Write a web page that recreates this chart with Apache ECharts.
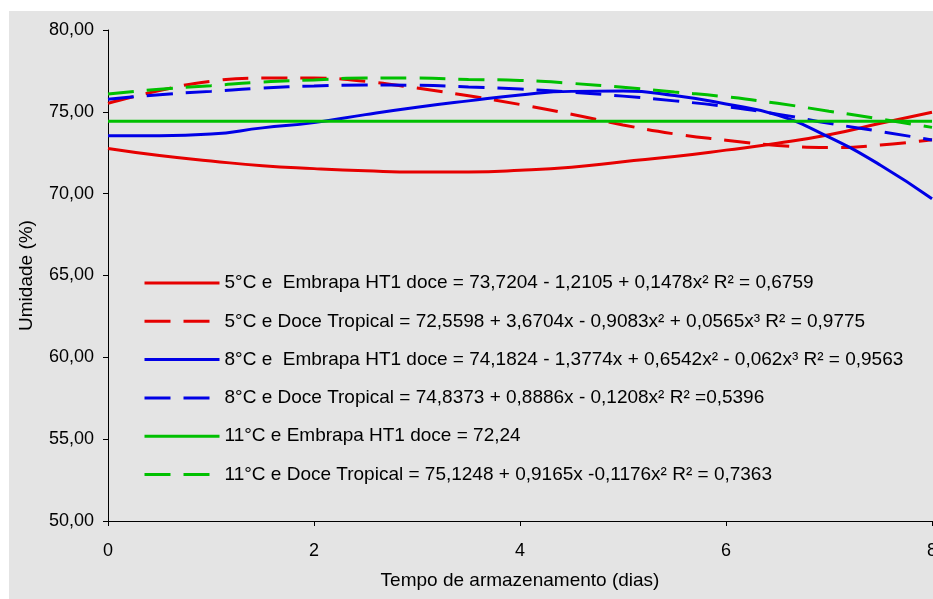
<!DOCTYPE html>
<html>
<head>
<meta charset="utf-8">
<script src="https://cdn.jsdelivr.net/npm/echarts@6/dist/echarts.min.js"></script>
<style>
html,body{margin:0;padding:0;background:#fff;}
#chart{width:933px;height:599px;}
</style>
</head>
<body>
<div id="chart"></div>
<script>
// ---- data ----
var days = [0, 0.5, 1, 1.5, 2, 2.5, 3, 3.5, 4, 4.5, 5, 5.5, 6, 6.5, 7, 7.5, 8];

var seriesNames = [
  '5°C e  Embrapa HT1 doce = 73,7204 - 1,2105 + 0,1478x² R² = 0,6759',
  '5°C e Doce Tropical = 72,5598 + 3,6704x - 0,9083x² + 0,0565x³ R² = 0,9775',
  '8°C e  Embrapa HT1 doce = 74,1824 - 1,3774x + 0,6542x² - 0,062x³ R² = 0,9563',
  '8°C e Doce Tropical = 74,8373 + 0,8886x - 0,1208x² R² =0,5396',
  '11°C e Embrapa HT1 doce = 72,24',
  '11°C e Doce Tropical = 75,1248 + 0,9165x -0,1176x² R² = 0,7363'
];

var embrapa5 = [72.76, 72.33, 72.00, 71.70, 71.53, 71.40, 71.32, 71.33, 71.43, 71.62, 71.95, 72.27, 72.66, 73.08, 73.60, 74.30, 74.97];
var tropical5 = [75.52, 76.30, 76.87, 77.06, 77.06, 76.86, 76.45, 75.98, 75.45, 74.85, 74.20, 73.65, 73.27, 72.95, 72.82, 72.97, 73.30];
var embrapa8 = [73.54, 73.54, 73.64, 74.02, 74.34, 74.83, 75.28, 75.67, 76.03, 76.25, 76.27, 76.00, 75.48, 74.80, 73.45, 71.74, 69.69];
var tropical8 = [75.77, 76.05, 76.25, 76.45, 76.58, 76.64, 76.62, 76.52, 76.39, 76.20, 75.96, 75.67, 75.32, 74.86, 74.30, 73.80, 73.28];
var embrapa11 = [74.43, 74.43, 74.43, 74.43, 74.43, 74.43, 74.43, 74.43, 74.43, 74.43, 74.43, 74.43, 74.43, 74.43, 74.43, 74.43, 74.43];
var tropical11 = [76.09, 76.38, 76.60, 76.82, 76.95, 77.06, 77.06, 76.98, 76.92, 76.74, 76.50, 76.21, 75.92, 75.52, 75.04, 74.56, 74.05];

var xTicks = [0, 2, 4, 6, 8];
var yTicks = [50, 55, 60, 65, 70, 75, 80];

// ---- chart ----
function pairs(vals) { return days.map(function (d, i) { return [d, vals[i]]; }); }

var RED = '#e60000', BLUE = '#0000e6', GREEN = '#00c000';
var FONT = "'Liberation Sans', Arial, sans-serif";
var DASH = [26, 13];

function mk(name, vals, color, dashed) {
  return {
    name: name, type: 'line', data: pairs(vals), smooth: true,
    symbol: 'none', showSymbol: false, silent: true,
    lineStyle: { color: color, width: 3, type: dashed ? DASH : 'solid', cap: 'butt' },
    itemStyle: { color: color }
  };
}

var chart = echarts.init(document.getElementById('chart'), null, { renderer: 'canvas' });
chart.setOption({
  animation: false,
  backgroundColor: '#e4e4e4',
  graphic: [
    { type: 'rect', shape: { x: 0, y: 0, width: 933, height: 11 }, style: { fill: '#ffffff' }, silent: true },
    { type: 'rect', shape: { x: 0, y: 0, width: 9, height: 599 }, style: { fill: '#ffffff' }, silent: true }
  ],
  grid: { left: 108, right: 1, top: 30, bottom: 78, containLabel: false, outerBoundsMode: 'none' },
  xAxis: {
    type: 'value', min: 0, max: 8, interval: 2,
    name: 'Tempo de armazenamento (dias)', nameLocation: 'middle', nameGap: 50,
    nameTextStyle: { fontFamily: FONT, fontSize: 19, color: '#000' },
    axisLine: { show: true, lineStyle: { color: '#000', width: 1 } },
    axisTick: { show: true, inside: false, length: 5, lineStyle: { color: '#000' } },
    axisLabel: { margin: 21, fontFamily: FONT, fontSize: 18, color: '#000', hideOverlap: false,
      formatter: function (v) { return xTicks.indexOf(v) >= 0 ? String(v) : ''; } },
    splitLine: { show: false }
  },
  yAxis: {
    type: 'value', min: 50, max: 80, interval: 5,
    name: 'Umidade (%)', nameLocation: 'middle', nameGap: 72, nameRotate: 90,
    nameTextStyle: { fontFamily: FONT, fontSize: 19, color: '#000' },
    axisLine: { show: true, lineStyle: { color: '#000', width: 1 } },
    axisTick: { show: true, inside: false, length: 5, lineStyle: { color: '#000' } },
    axisLabel: { margin: 14, fontFamily: FONT, fontSize: 18, color: '#000',
      formatter: function (v) { return yTicks.indexOf(v) >= 0 ? v.toFixed(2).replace('.', ',') : ''; } },
    splitLine: { show: false }
  },
  legend: {
    orient: 'vertical', left: 143, top: 273, padding: 0,
    itemWidth: 75, itemHeight: 20, itemGap: 18.3,
    itemStyle: { opacity: 0, borderWidth: 0 },
    lineStyle: { width: 3 },
    textStyle: { fontFamily: FONT, fontSize: 19, color: '#000', lineHeight: 20 },
    selectedMode: false,
    data: seriesNames
  },
  series: [
    mk(seriesNames[0], embrapa5, RED, false),
    mk(seriesNames[1], tropical5, RED, true),
    mk(seriesNames[2], embrapa8, BLUE, false),
    mk(seriesNames[3], tropical8, BLUE, true),
    mk(seriesNames[4], embrapa11, GREEN, false),
    mk(seriesNames[5], tropical11, GREEN, true)
  ]
});
</script>
</body>
</html>
